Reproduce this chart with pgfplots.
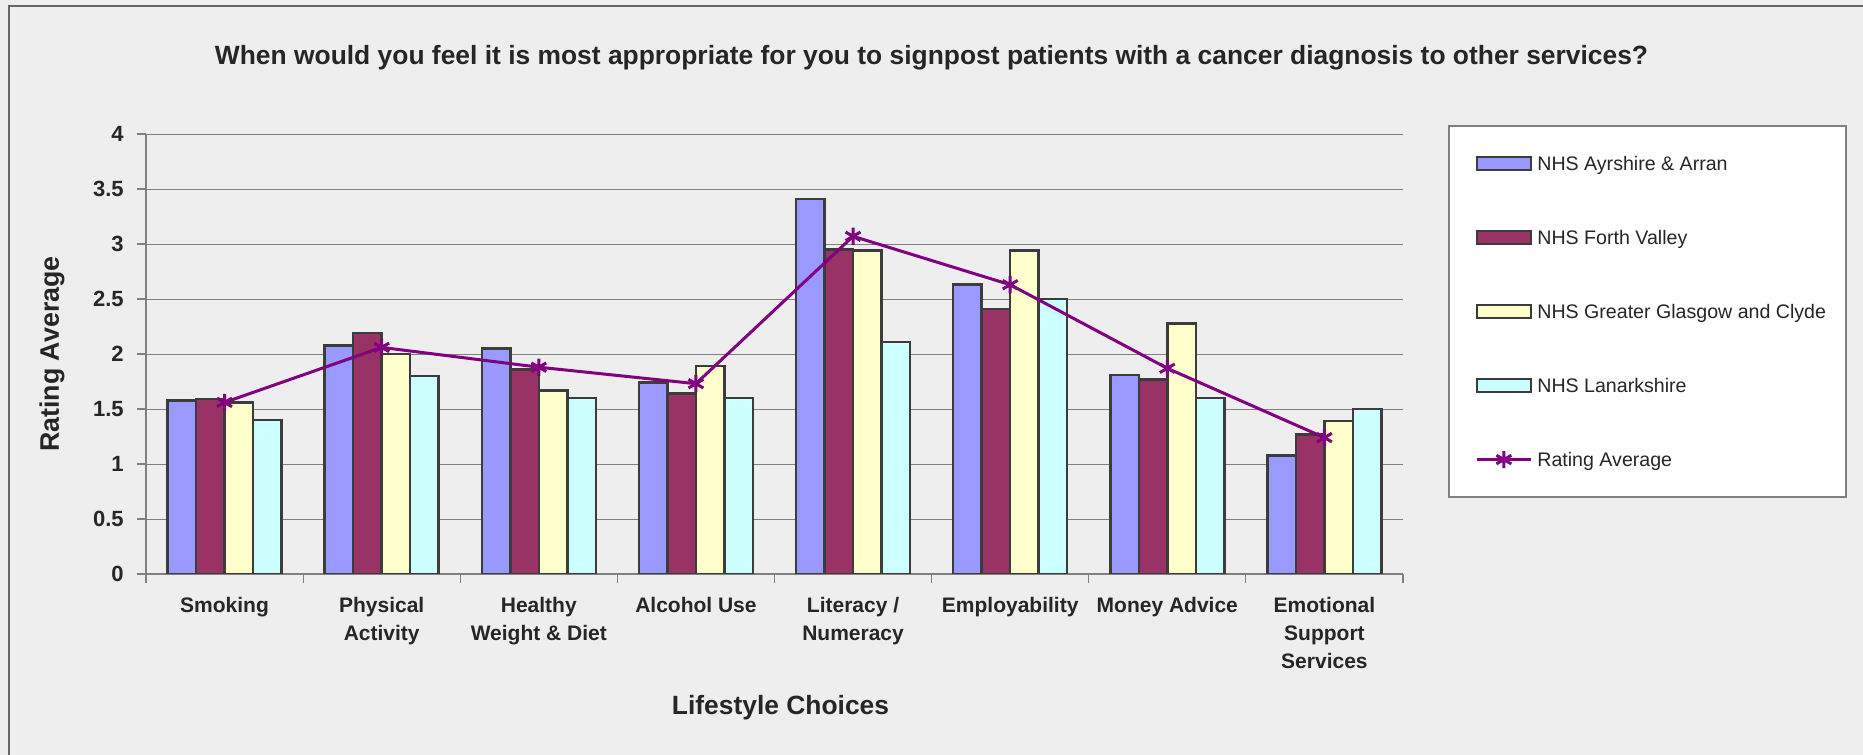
\documentclass[border=0pt]{standalone}
\usepackage{fontspec}
\setmainfont{Liberation Sans}
\usepackage{pgfplots}
\usepackage{pgfplotstable}
\pgfplotsset{compat=1.18}
\definecolor{bg}{HTML}{EEEEEE}
\definecolor{cA}{HTML}{9999FF}
\definecolor{cB}{HTML}{993366}
\definecolor{cC}{HTML}{FFFFCC}
\definecolor{cD}{HTML}{CCFFFF}
\definecolor{cL}{HTML}{800080}
\definecolor{edge}{HTML}{3C3C3C}
\definecolor{gridc}{HTML}{808080}
\definecolor{txt}{HTML}{262626}

\pgfplotstableread{
x A B C D avg
0 1.58 1.59 1.56 1.40 1.56
1 2.08 2.19 2.00 1.80 2.06
2 2.05 1.86 1.67 1.60 1.88
3 1.74 1.64 1.89 1.60 1.73
4 3.41 2.95 2.94 2.11 3.07
5 2.63 2.41 2.94 2.50 2.63
6 1.81 1.77 2.28 1.60 1.87
7 1.08 1.27 1.39 1.50 1.24
}\data

\begin{document}
\begin{tikzpicture}
\path[use as bounding box, fill=bg] (0,0) rectangle (931.5bp,377.5bp);
\draw[color=black!60, line width=1bp] (4.5bp,0) -- (4.5bp,374.5bp) -- (931.5bp,374.5bp);
\draw[gridc, line width=0.8bp, fill=white] (724.5bp,129bp) rectangle (923bp,314.5bp);
\node[font=\bfseries\fontsize{13.2bp}{15bp}\selectfont, text=txt] at (465.75bp,348.8bp)
  {When would you feel it is most appropriate for you to signpost patients with a cancer diagnosis to other services?};
\begin{axis}[
  at={(73bp,90.5bp)}, anchor=south west,
  scale only axis, width=628.5bp, height=220bp,
  xmin=-0.5, xmax=7.5, ymin=0, ymax=4,
  axis x line*=bottom, axis y line*=left,
  axis line style={gridc, line width=0.6bp, -},
  tick align=outside, major tick length=4.5bp,
  tick style={gridc, line width=0.6bp},
  ytick={0,0.5,...,4},
  yticklabels={0,0.5,1,1.5,2,2.5,3,3.5,4},
  ymajorgrids, grid style={gridc, line width=0.5bp},
  yticklabel style={font=\bfseries\fontsize{11bp}{13bp}\selectfont, text=txt, anchor=east, inner sep=0pt, xshift=-6.5bp},
  xtick={-0.5,0.5,...,7.5},
  xticklabels={{},{},{},{},{},{},{},{},{}},
  extra x ticks={0,1,2,3,4,5,6,7},
  extra x tick labels={Smoking,{Physical\\Activity},{Healthy\\Weight \& Diet},Alcohol Use,{Literacy /\\Numeracy},Employability,Money Advice,{Emotional\\Support\\Services}},
  extra x tick style={major tick length=0pt, xticklabel style={font=\bfseries\fontsize{10.5bp}{14bp}\selectfont, text=txt, align=center, anchor=north, inner sep=0pt, yshift=-11.5bp}},
  xlabel={Lifestyle Choices},
  xlabel style={font=\bfseries\fontsize{13.2bp}{15bp}\selectfont, text=txt, at={(axis description cs:0.5048,-0.274)}, anchor=north, inner sep=0pt},
  ylabel={Rating Average},
  ylabel style={font=\bfseries\fontsize{13.4bp}{15bp}\selectfont, text=txt, at={(axis description cs:-0.0748,0.5)}, anchor=center, inner sep=0pt},
  legend style={at={(1.05728,0.95409)}, anchor=north west, draw=none, fill=none, inner sep=0pt,
    row sep=26.5bp, column sep=2.5bp, font=\fontsize{9.8bp}{12bp}\selectfont, text=txt,
    nodes={inner sep=0pt, text height=8bp, text depth=2.5bp, anchor=base west}},
  legend cell align=left,
]
\addplot[ybar, bar width=14.25bp, bar shift=-21.375bp, fill=cA, draw=edge, line width=1.3bp,
  legend image code/.code={\draw[fill=cA, draw=edge, line width=1.2bp] (0bp,0.25bp) rectangle (27bp,6.75bp);}]
  table[x=x,y=A]{\data};
\addlegendentry{NHS Ayrshire \& Arran}
\addplot[ybar, bar width=14.25bp, bar shift=-7.125bp, fill=cB, draw=edge, line width=1.3bp,
  legend image code/.code={\draw[fill=cB, draw=edge, line width=1.2bp] (0bp,0.25bp) rectangle (27bp,6.75bp);}]
  table[x=x,y=B]{\data};
\addlegendentry{NHS Forth Valley}
\addplot[ybar, bar width=14.25bp, bar shift=7.125bp, fill=cC, draw=edge, line width=1.3bp,
  legend image code/.code={\draw[fill=cC, draw=edge, line width=1.2bp] (0bp,0.25bp) rectangle (27bp,6.75bp);}]
  table[x=x,y=C]{\data};
\addlegendentry{NHS Greater Glasgow and Clyde}
\addplot[ybar, bar width=14.25bp, bar shift=21.375bp, fill=cD, draw=edge, line width=1.3bp,
  legend image code/.code={\draw[fill=cD, draw=edge, line width=1.2bp] (0bp,0.25bp) rectangle (27bp,6.75bp);}]
  table[x=x,y=D]{\data};
\addlegendentry{NHS Lanarkshire}
\addplot[sharp plot, cL, line width=1.5bp, mark=asterisk, mark size=4.3bp, mark options={line width=1.5bp},
  legend image code/.code={\draw[cL, line width=1.5bp, mark=asterisk, mark size=4.3bp, mark repeat=2, mark phase=2] plot coordinates {(0bp,3.5bp) (13.5bp,3.5bp) (27bp,3.5bp)};}]
  table[x=x,y=avg]{\data};
\addlegendentry{Rating Average}
\end{axis}
\end{tikzpicture}
\end{document}
